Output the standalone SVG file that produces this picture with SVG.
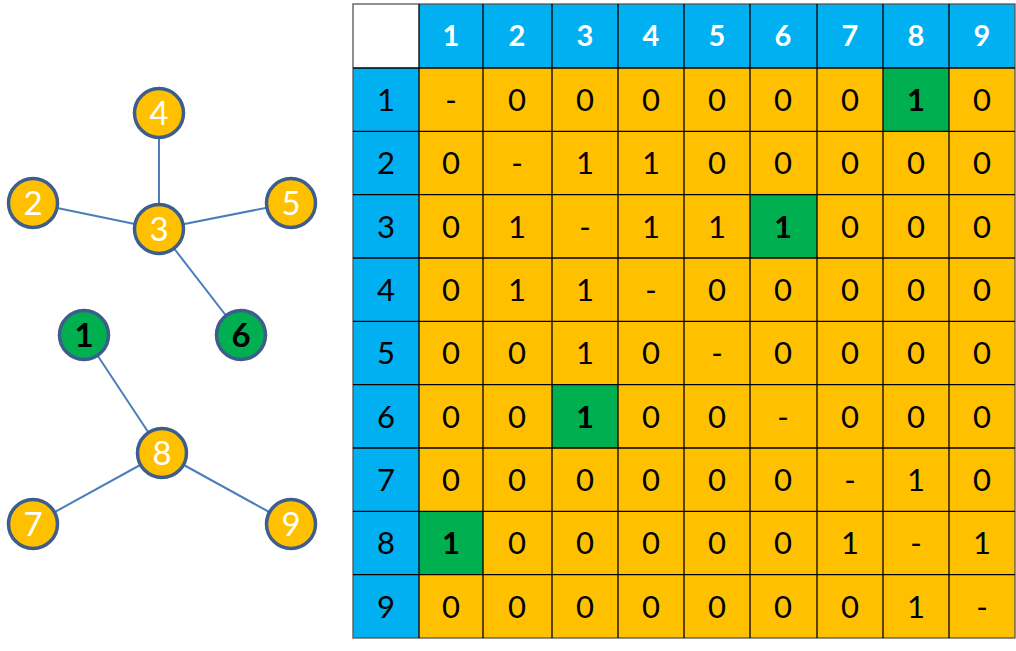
<svg xmlns="http://www.w3.org/2000/svg" width="1016" height="651" viewBox="0 0 1016 651">
<style>
.b{fill:#00B0F0}.y{fill:#FFC000}.g{fill:#00B050}.w{fill:#fff}
.grid{stroke:#000;stroke-width:1.3;fill:none}
.h{font-family:Lato,"Liberation Sans",sans-serif;font-size:29px;font-weight:bold;fill:#fff;text-anchor:middle}
.r{font-family:Lato,"Liberation Sans",sans-serif;font-size:31px;fill:#000;text-anchor:middle}
.gb{font-weight:bold}
.edge{stroke:#4A7EBB;stroke-width:2}
.ny{fill:#FFC000;stroke:#3D5E8C;stroke-width:3.5}
.ng{fill:#00B050;stroke:#3D5E8C;stroke-width:3.5}
.nt{font-family:Lato,"Liberation Sans",sans-serif;font-size:33px;fill:#fff;text-anchor:middle}
.ntg{font-family:Lato,"Liberation Sans",sans-serif;font-size:33px;font-weight:bold;fill:#000;text-anchor:middle}
</style>
<rect width="1016" height="651" fill="#fff"/>
<g id="connectors">
<line class="edge" x1="159" y1="113" x2="159" y2="229"/>
<line class="edge" x1="33" y1="203" x2="159" y2="229"/>
<line class="edge" x1="291" y1="203" x2="159" y2="229"/>
<line class="edge" x1="159" y1="229" x2="241" y2="335"/>
<line class="edge" x1="84" y1="335" x2="162" y2="453"/>
<line class="edge" x1="33" y1="524" x2="162" y2="453"/>
<line class="edge" x1="291" y1="524" x2="162" y2="453"/>
</g>
<g id="node4"><circle class="ny" cx="159" cy="113" r="24.5"/><text class="nt" x="159" y="125">4</text></g>
<g id="node2"><circle class="ny" cx="33" cy="203" r="24.5"/><text class="nt" x="33" y="215">2</text></g>
<g id="node3"><circle class="ny" cx="159" cy="229" r="24.5"/><text class="nt" x="159" y="241">3</text></g>
<g id="node5"><circle class="ny" cx="291" cy="203" r="24.5"/><text class="nt" x="291" y="215">5</text></g>
<g id="node1"><circle class="ng" cx="84" cy="335" r="24.5"/><text class="ntg" x="84" y="347">1</text></g>
<g id="node6"><circle class="ng" cx="241" cy="335" r="24.5"/><text class="ntg" x="241" y="347">6</text></g>
<g id="node8"><circle class="ny" cx="162" cy="453" r="24.5"/><text class="nt" x="162" y="465">8</text></g>
<g id="node7"><circle class="ny" cx="33" cy="524" r="24.5"/><text class="nt" x="33" y="536">7</text></g>
<g id="node9"><circle class="ny" cx="291" cy="524" r="24.5"/><text class="nt" x="291" y="536">9</text></g>
<g id="table">
<rect class="w" x="353" y="4" width="66" height="64"/>
<rect class="b" x="419" y="4" width="596" height="64"/>
<rect class="b" x="353" y="68" width="66" height="570"/>
<rect class="y" x="419" y="68" width="596" height="570"/>
<rect class="g" x="883" y="68" width="66" height="63.3"/>
<rect class="g" x="750" y="194.7" width="67" height="63.3"/>
<rect class="g" x="552" y="384.7" width="66" height="63.3"/>
<rect class="g" x="419" y="511.3" width="64" height="63.4"/>
<g class="grid">
<rect x="353" y="4" width="662" height="634" stroke="#555"/>
<line x1="419" y1="4" x2="419" y2="638"/>
<line x1="483" y1="4" x2="483" y2="638"/>
<line x1="552" y1="4" x2="552" y2="638"/>
<line x1="618" y1="4" x2="618" y2="638"/>
<line x1="684" y1="4" x2="684" y2="638"/>
<line x1="750" y1="4" x2="750" y2="638"/>
<line x1="817" y1="4" x2="817" y2="638"/>
<line x1="883" y1="4" x2="883" y2="638"/>
<line x1="949" y1="4" x2="949" y2="638"/>
<line x1="353" y1="68" x2="1015" y2="68"/>
<line x1="353" y1="131.3" x2="1015" y2="131.3"/>
<line x1="353" y1="194.7" x2="1015" y2="194.7"/>
<line x1="353" y1="258" x2="1015" y2="258"/>
<line x1="353" y1="321.3" x2="1015" y2="321.3"/>
<line x1="353" y1="384.7" x2="1015" y2="384.7"/>
<line x1="353" y1="448" x2="1015" y2="448"/>
<line x1="353" y1="511.3" x2="1015" y2="511.3"/>
<line x1="353" y1="574.7" x2="1015" y2="574.7"/>
</g>
<g class="h">
<text x="451" y="46">1</text><text x="517" y="46">2</text><text x="585" y="46">3</text><text x="651" y="46">4</text><text x="717" y="46">5</text><text x="783" y="46">6</text><text x="850" y="46">7</text><text x="916" y="46">8</text><text x="982" y="46">9</text>
</g>
<g class="r">
<text x="386" y="111">1</text><text x="386" y="174">2</text><text x="386" y="238">3</text><text x="386" y="301">4</text><text x="386" y="364">5</text><text x="386" y="428">6</text><text x="386" y="491">7</text><text x="386" y="554">8</text><text x="386" y="618">9</text>
</g>
<g class="r">
<text x="451" y="111">-</text><text x="517" y="111">0</text><text x="585" y="111">0</text><text x="651" y="111">0</text><text x="717" y="111">0</text><text x="783" y="111">0</text><text x="850" y="111">0</text><text class="gb" x="916" y="111">1</text><text x="982" y="111">0</text>
<text x="451" y="174">0</text><text x="517" y="174">-</text><text x="585" y="174">1</text><text x="651" y="174">1</text><text x="717" y="174">0</text><text x="783" y="174">0</text><text x="850" y="174">0</text><text x="916" y="174">0</text><text x="982" y="174">0</text>
<text x="451" y="238">0</text><text x="517" y="238">1</text><text x="585" y="238">-</text><text x="651" y="238">1</text><text x="717" y="238">1</text><text class="gb" x="783" y="238">1</text><text x="850" y="238">0</text><text x="916" y="238">0</text><text x="982" y="238">0</text>
<text x="451" y="301">0</text><text x="517" y="301">1</text><text x="585" y="301">1</text><text x="651" y="301">-</text><text x="717" y="301">0</text><text x="783" y="301">0</text><text x="850" y="301">0</text><text x="916" y="301">0</text><text x="982" y="301">0</text>
<text x="451" y="364">0</text><text x="517" y="364">0</text><text x="585" y="364">1</text><text x="651" y="364">0</text><text x="717" y="364">-</text><text x="783" y="364">0</text><text x="850" y="364">0</text><text x="916" y="364">0</text><text x="982" y="364">0</text>
<text x="451" y="428">0</text><text x="517" y="428">0</text><text class="gb" x="585" y="428">1</text><text x="651" y="428">0</text><text x="717" y="428">0</text><text x="783" y="428">-</text><text x="850" y="428">0</text><text x="916" y="428">0</text><text x="982" y="428">0</text>
<text x="451" y="491">0</text><text x="517" y="491">0</text><text x="585" y="491">0</text><text x="651" y="491">0</text><text x="717" y="491">0</text><text x="783" y="491">0</text><text x="850" y="491">-</text><text x="916" y="491">1</text><text x="982" y="491">0</text>
<text class="gb" x="451" y="554">1</text><text x="517" y="554">0</text><text x="585" y="554">0</text><text x="651" y="554">0</text><text x="717" y="554">0</text><text x="783" y="554">0</text><text x="850" y="554">1</text><text x="916" y="554">-</text><text x="982" y="554">1</text>
<text x="451" y="618">0</text><text x="517" y="618">0</text><text x="585" y="618">0</text><text x="651" y="618">0</text><text x="717" y="618">0</text><text x="783" y="618">0</text><text x="850" y="618">0</text><text x="916" y="618">1</text><text x="982" y="618">-</text>
</g>
</g>
</svg>
